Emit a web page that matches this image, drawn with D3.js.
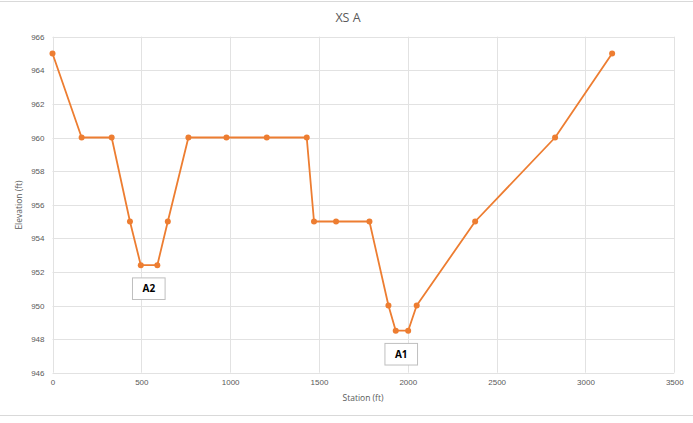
<!DOCTYPE html>
<html>
<head>
<meta charset="utf-8">
<script src="https://cdn.jsdelivr.net/npm/d3@7"></script>
<style>
  html, body { margin: 0; padding: 0; background: #fff; }
  svg { display: block; font-family: "Open Sans", "Noto Sans", sans-serif; }
</style>
</head>
<body>
<svg id="chart" width="693" height="423"></svg>
<script>
// ---- data ----
const stations = [0, 164, 333, 436, 497, 590, 649, 765, 979, 1206, 1431, 1472, 1596, 1784, 1891, 1932, 2002, 2050, 2379, 2829, 3150];
const elevations = [965, 960, 960, 955, 952.4, 952.4, 955, 960, 960, 960, 960, 955, 955, 955, 950, 948.5, 948.5, 950, 955, 960, 965];
const xTicks = [0, 500, 1000, 1500, 2000, 2500, 3000, 3500];
const yTicks = [946, 948, 950, 952, 954, 956, 958, 960, 962, 964, 966];
const labelNames = ["A2", "A1"];
const labelStations = [542, 1963];
const labelElevations = [951.0, 947.1];
const chartTitle = "XS A";
const xTitle = "Station (ft)";
const yTitle = "Elevation (ft)";

// ---- layout ----
const svg = d3.select("#chart");
const x = d3.scaleLinear().domain([0, 3500]).range([52.5, 674.3]);
const y = d3.scaleLinear().domain([946, 966]).range([372.7, 36.7]);
const grid = "#e2e2e2";
const txt = "#595959";
const orange = "#ED7D31";

// chart border (top/bottom)
svg.append("line").attr("x1", 0).attr("x2", 693).attr("y1", 1.5).attr("y2", 1.5).attr("stroke", "#d9d9d9").attr("stroke-width", 1);
svg.append("line").attr("x1", 0).attr("x2", 693).attr("y1", 415.5).attr("y2", 415.5).attr("stroke", "#d9d9d9").attr("stroke-width", 1);

// gridlines
svg.append("g").selectAll("line").data(yTicks).join("line")
  .attr("x1", x(0)).attr("x2", x(3500))
  .attr("y1", d => Math.round(y(d)) + 0.5).attr("y2", d => Math.round(y(d)) + 0.5)
  .attr("stroke", grid).attr("stroke-width", 1);
svg.append("g").selectAll("line").data(xTicks).join("line")
  .attr("y1", y(966)).attr("y2", y(946))
  .attr("x1", d => Math.round(x(d)) + 0.5).attr("x2", d => Math.round(x(d)) + 0.5)
  .attr("stroke", grid).attr("stroke-width", 1);

// axes (labels only)
const xAxis = d3.axisBottom(x).tickValues(xTicks).tickSize(0).tickPadding(7).tickFormat(d3.format("d"));
const gx = svg.append("g").attr("transform", `translate(0,${y(946)})`).call(xAxis);
gx.select(".domain").remove();
gx.selectAll("text").attr("fill", txt).style("font-size", "8px");

const yAxis = d3.axisLeft(y).tickValues(yTicks).tickSize(0).tickPadding(8).tickFormat(d3.format("d"));
const gy = svg.append("g").attr("transform", `translate(${x(0)},0)`).call(yAxis);
gy.select(".domain").remove();
gy.selectAll("text").attr("fill", txt).style("font-size", "8px");

// titles
svg.append("text").attr("x", 348).attr("y", 22).attr("text-anchor", "middle")
  .attr("fill", txt).style("font-size", "12.5px").text(chartTitle);
svg.append("text").attr("x", 363).attr("y", 401).attr("text-anchor", "middle")
  .attr("fill", txt).style("font-size", "8.5px").text(xTitle);
svg.append("text").attr("transform", "translate(22,205) rotate(-90)").attr("text-anchor", "middle")
  .attr("fill", txt).style("font-size", "8.5px").text(yTitle);

// series
const pts = stations.map((s, i) => [s, elevations[i]]);
svg.append("path").datum(pts)
  .attr("fill", "none").attr("stroke", orange).attr("stroke-width", 1.8).attr("stroke-linejoin", "round")
  .attr("d", d3.line().x(d => x(d[0])).y(d => y(d[1])));
svg.append("g").selectAll("circle").data(pts).join("circle")
  .attr("cx", d => x(d[0])).attr("cy", d => y(d[1])).attr("r", 3)
  .attr("fill", orange);

// annotation boxes
const labels = labelNames.map((n, i) => ({ n, s: labelStations[i], e: labelElevations[i] }));
const lg = svg.append("g").selectAll("g").data(labels).join("g")
  .attr("transform", d => `translate(${x(d.s)},${y(d.e)})`);
lg.append("rect").attr("x", -16.3).attr("y", -10.8).attr("width", 32.6).attr("height", 21.6)
  .attr("fill", "#fff").attr("stroke", "#bfbfbf").attr("stroke-width", 1);
lg.append("text").attr("text-anchor", "middle").attr("dy", "0.35em")
  .attr("fill", "#000").style("font-size", "10px").style("font-weight", "bold").text(d => d.n);
</script>
</body>
</html>
